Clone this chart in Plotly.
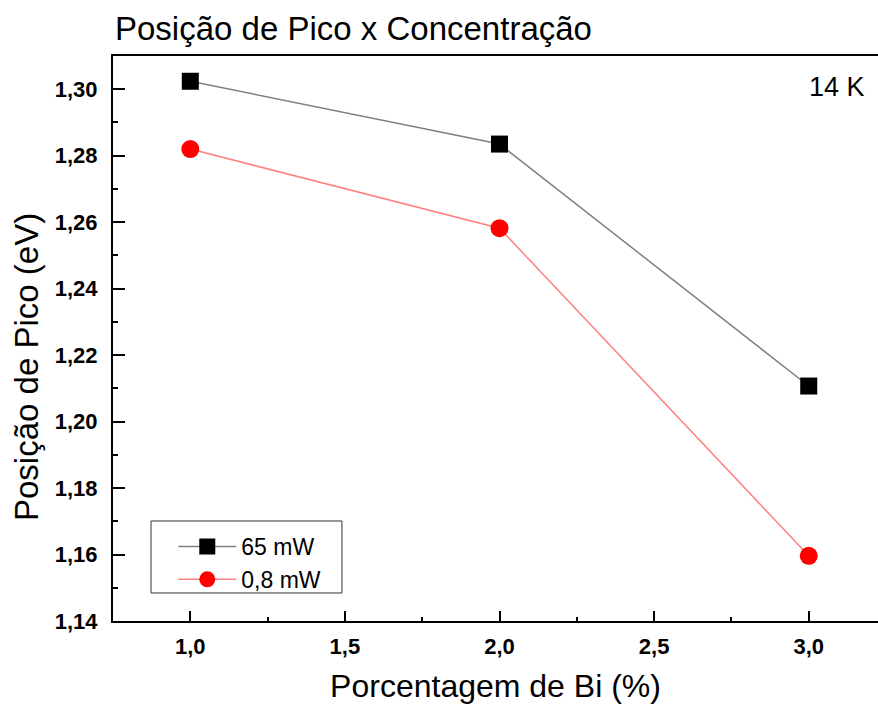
import plotly.graph_objects as go

bi_pct = [1.0, 2.0, 3.0]
pico_65mw = [1.3024, 1.2835, 1.2107]
pico_08mw = [1.2820, 1.2582, 1.1596]
series_names = ["65 mW", "0,8 mW"]

FONT = "Liberation Sans, Arial, sans-serif"

fig = go.Figure()
fig.add_trace(go.Scatter(
    x=bi_pct, y=pico_65mw, name=series_names[0], mode="lines+markers",
    line=dict(color="#808080", width=1.5),
    marker=dict(symbol="square", size=17, color="black"),
))
fig.add_trace(go.Scatter(
    x=bi_pct, y=pico_08mw, name=series_names[1], mode="lines+markers",
    line=dict(color="#ff8080", width=1.5),
    marker=dict(symbol="circle", size=18, color="#ff0000"),
))

fig.update_layout(
    width=878, height=709, autosize=False,
    margin=dict(l=113, r=0, t=56, b=88),
    paper_bgcolor="white", plot_bgcolor="white",
    separators=",.",
    font=dict(family=FONT, color="black"),
    showlegend=True,
    legend=dict(
        x=0.0788, y=0.170, xanchor="left", yanchor="top",
        borderwidth=0, bgcolor="rgba(0,0,0,0)",
        font=dict(size=23, family=FONT), tracegroupgap=0,
        itemwidth=58,
    ),
    shapes=[
        dict(type="rect", xref="paper", yref="paper",
             x0=0.0497, x1=0.2993, y0=0.0496, y1=0.177,
             line=dict(color="#333333", width=1), fillcolor="rgba(0,0,0,0)", layer="below"),
    ],
    xaxis=dict(
        range=[0.75, 3.224], tickvals=[1.0, 1.5, 2.0, 2.5, 3.0],
        tickformat=".1f", ticks="inside", ticklen=10, tickwidth=2, tickcolor="black",
        minor=dict(ticks="inside", ticklen=4, tickwidth=2, dtick=0.25, tickcolor="black"),
        showline=True, linecolor="black", linewidth=2, mirror=True,
        showgrid=False, zeroline=False, ticklabelstandoff=5,
        tickfont=dict(size=22, family=FONT, weight="bold"),
        title=dict(text="Porcentagem de Bi (%)", font=dict(size=32, family=FONT), standoff=16),
    ),
    yaxis=dict(
        range=[1.14, 1.31], dtick=0.02, tick0=1.14,
        tickformat=".2f", ticks="inside", ticklen=12, tickwidth=2, tickcolor="black",
        minor=dict(ticks="inside", ticklen=5, tickwidth=2, dtick=0.01, tickcolor="black"),
        showline=True, linecolor="black", linewidth=2, mirror=False,
        showgrid=False, zeroline=False, ticklabelstandoff=9,
        tickfont=dict(size=22, family=FONT, weight="bold"),
    ),
    annotations=[
        dict(text="Posição de Pico x Concentração", xref="paper", yref="paper",
             x=0.0, y=1.048, xanchor="left", yanchor="middle", showarrow=False,
             font=dict(size=33, family=FONT)),
        dict(text="14 K", xref="paper", yref="paper", x=0.9856, y=0.946,
             xanchor="right", yanchor="middle", showarrow=False,
             font=dict(size=27, family=FONT)),
        dict(text="Posição de Pico (eV)", xref="paper", yref="paper",
             x=-0.1124, y=0.4496, xanchor="center", yanchor="middle",
             textangle=-90, showarrow=False, font=dict(size=33, family=FONT)),
    ],
)

fig.write_html("out.html")
